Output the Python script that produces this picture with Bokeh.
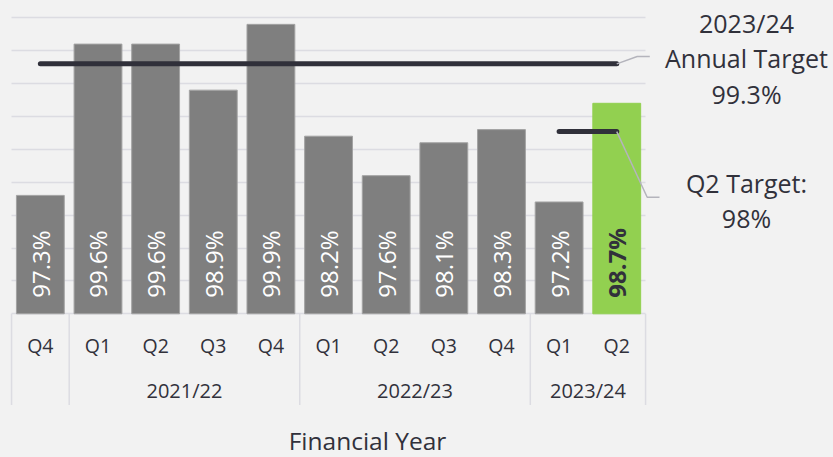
import numpy as np
from bokeh.plotting import figure
from bokeh.models import Range1d, Grid, SingleIntervalTicker
from bokeh.core.properties import value
from bokeh.embed import file_html
from bokeh.resources import INLINE

# ---- data ----
quarters = ["Q4", "Q1", "Q2", "Q3", "Q4", "Q1", "Q2", "Q3", "Q4", "Q1", "Q2"]
years = ["", "2021/22", "2021/22", "2021/22", "2021/22",
         "2022/23", "2022/23", "2022/23", "2022/23", "2023/24", "2023/24"]
values = [97.3, 99.6, 99.6, 98.9, 99.9, 98.2, 97.6, 98.1, 98.3, 97.2, 98.7]
highlight = [False] * 10 + [True]
annual_target = 99.3
annual_target_year = "2023/24"
q2_target = 98.27
y_min, y_max, y_step = 95.5, 100.0, 0.5

# ---- layout / style ----
W, H = 833, 457
PX_X, PX_Y = 57.64, 65.78        # pixels per category / per percentage point
X0_PX, BASE_PX = 39.85, 313.3    # pixel position of first bar centre / baseline
FONT = value("Open Sans")
DARK = "#31313b"
GRID = "#dcdce2"
BG = "#f2f2f2"


def px_x(px):
    return (px - X0_PX) / PX_X


def px_y(py):
    return y_min + (BASE_PX - py) / PX_Y


n = len(values)
idx = np.arange(n)

p = figure(width=W, height=H, output_backend="svg", toolbar_location=None,
           x_range=Range1d(px_x(0), px_x(W)), y_range=Range1d(px_y(H), px_y(0)),
           x_axis_type=None, y_axis_type=None, min_border=0)
p.outline_line_color = None
p.background_fill_color = BG
p.border_fill_color = BG

p.add_layout(Grid(dimension=1, ticker=SingleIntervalTicker(interval=y_step),
                  bounds=(y_min, y_max), cross_bounds=(-0.5, n - 0.5),
                  grid_line_color=GRID, grid_line_width=1.5))

colors = ["#92d050" if h else "#7f7f7f" for h in highlight]
edges = ["#92d050" if h else "#a3a3a3" for h in highlight]
p.vbar(x=idx, top=values, bottom=y_min, width=0.83, fill_color=colors,
       line_color=edges, line_width=1)

# bar value labels
pad = 16 / PX_Y
norm = [i for i in idx if not highlight[i]]
hl = [i for i in idx if highlight[i]]
p.text(x=[idx[i] for i in norm], y=[y_min + pad] * len(norm),
       text=[f"{values[i]:.1f}%" for i in norm], angle=np.pi / 2,
       text_align="left", text_baseline="middle", text_font=FONT,
       text_font_size="24px", text_color="white")
p.text(x=[idx[i] for i in hl], y=[y_min + pad] * len(hl),
       text=[f"{values[i]:.1f}%" for i in hl], angle=np.pi / 2,
       text_align="left", text_baseline="middle", text_font=FONT,
       text_font_size="24px", text_color=DARK, text_font_style="bold")

# target lines
p.line(x=[idx[0], idx[-1]], y=[annual_target] * 2, line_color="#30303a",
       line_width=5, line_cap="round")
p.line(x=[idx[-2], idx[-1]], y=[q2_target] * 2, line_color="#30303a",
       line_width=5, line_cap="round")

# leader lines
p.line(x=[idx[-1], px_x(636.7), px_x(649.3)],
       y=[annual_target, px_y(56), px_y(56)], line_color="#b4b4bc", line_width=1.5)
p.line(x=[idx[-1], px_x(646.7), px_x(659)],
       y=[q2_target, px_y(196.7), px_y(196.7)], line_color="#b4b4bc", line_width=1.5)

# two-level category axis
boundaries = [-0.5] + [i + 0.5 for i in range(n - 1) if years[i] != years[i + 1]] + [n - 0.5]
p.segment(x0=boundaries, y0=[y_min] * len(boundaries), x1=boundaries,
          y1=[px_y(404.5)] * len(boundaries), line_color=GRID, line_width=1.5)

p.text(x=idx, y=[px_y(344.5)] * n, text=quarters, text_align="center",
       text_baseline="middle", text_font=FONT, text_font_size="19.5px",
       text_color=DARK)
groups = [g for g in dict.fromkeys(years) if g]
gx = [float(np.mean([i for i in idx if years[i] == g])) for g in groups]
p.text(x=gx, y=[px_y(389.5)] * len(groups), text=groups, text_align="center",
       text_baseline="middle", text_font=FONT, text_font_size="20px",
       text_color=DARK)

p.text(x=[px_x(367)], y=[px_y(440)], text=["Financial Year"], text_align="center",
       text_baseline="middle", text_font=FONT, text_font_size="24.5px",
       text_color=DARK)

# target annotations
ann_y = [px_y(v) for v in (22.5, 57.0, 93.7, 182.0, 217.0)]
ann_t = [annual_target_year, "Annual Target", f"{annual_target:.1f}%",
         "Q2 Target:", f"{q2_target:.0f}%"]
p.text(x=[px_x(746)] * len(ann_t), y=ann_y, text=ann_t, text_align="center",
       text_baseline="middle", text_font=FONT, text_font_size="25px",
       text_color=DARK)

html = file_html(p, INLINE)
html = html.replace("<head>", "<head><style>body{background:#f2f2f2;}</style>", 1)
open("out.html", "w").write(html)
